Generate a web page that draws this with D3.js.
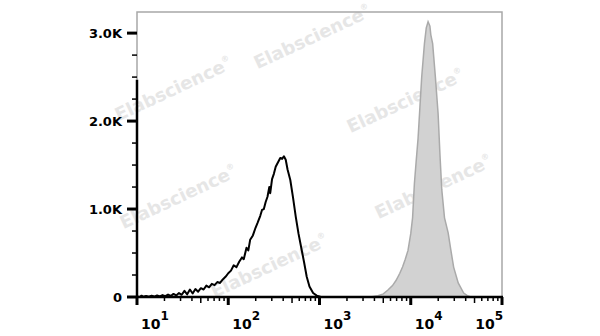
<!DOCTYPE html>
<html>
<head>
<meta charset="utf-8">
<script src="https://cdnjs.cloudflare.com/ajax/libs/d3/7.8.5/d3.min.js"></script>
<style>
  body { margin: 0; background: #fff; }
  svg { display: block; font-family: "DejaVu Sans", Verdana, sans-serif; }
</style>
</head>
<body>
<div id="chart"></div>
<script>
// log10(intensity) / event count pairs
var blackLog = [1.00,1.03,1.05,1.07,1.10,1.13,1.16,1.19,1.22,1.25,1.28,1.31,1.34,1.37,1.40,1.43,1.46,1.49,1.52,1.55,1.58,1.61,1.64,1.67,1.70,1.73,1.76,1.79,1.82,1.85,1.88,1.91,1.94,1.97,2.00,2.03,2.06,2.09,2.12,2.15,2.17,2.20,2.22,2.24,2.27,2.30,2.32,2.35,2.37,2.39,2.41,2.43,2.45,2.46,2.48,2.50,2.52,2.55,2.57,2.59,2.61,2.63,2.65,2.68,2.71,2.74,2.77,2.80,2.83,2.86,2.89,2.93,2.97,3.01,3.05]
var blackCount = [5,0,15,2,12,3,14,5,18,6,22,10,28,12,35,18,45,25,70,30,85,40,90,60,100,85,130,110,150,135,170,160,200,230,270,300,360,340,400,450,430,560,530,650,700,790,840,920,990,1000,1080,1140,1250,1180,1340,1400,1480,1540,1580,1570,1600,1560,1450,1330,1130,910,720,560,400,230,120,45,15,4,0]

var grayLog = [3.56,3.64,3.70,3.75,3.80,3.84,3.88,3.91,3.94,3.97,4.00,4.02,4.04,4.06,4.08,4.10,4.12,4.15,4.17,4.19,4.21,4.22,4.24,4.27,4.30,4.32,4.34,4.37,4.41,4.44,4.47,4.52,4.58,4.62,4.66]
var grayCount = [0,15,35,80,130,190,270,340,430,530,720,900,1290,1550,1800,2150,2500,2880,3060,3130,3080,2980,2880,2500,2080,1620,1220,900,730,530,340,160,45,15,0]

var yTicks = [0, 1000, 2000, 3000]
var yTickLabels = ["0", "1.0K", "2.0K", "3.0K"]
var xDecades = [1, 2, 3, 4, 5]

var watermarks = [[313, 38], [174, 90], [406, 102], [179, 198], [434, 188], [270, 267]]

var W = 600, H = 336
var margin = {top: 12, right: 98, bottom: 39, left: 137}
var width = W - margin.left - margin.right,
    height = H - margin.top - margin.bottom

var x = d3.scaleLog().domain([10, 1e5]).range([0, width])
var y = d3.scaleLinear().domain([0, 3240]).range([height, 0])

var svg = d3.select("#chart").append("svg")
  .attr("width", W)
  .attr("height", H)

// watermark
svg.append("g").attr("class", "wm")
  .selectAll("text")
  .data(watermarks).enter().append("text")
  .attr("transform", d => "translate(" + d[0] + "," + d[1] + ") rotate(-25)")
  .attr("text-anchor", "middle")
  .attr("dominant-baseline", "middle")
  .style("font-size", "18px")
  .style("font-weight", "bold")
  .style("fill", "#e6e6e6")
  .text("Elabscience")
  .append("tspan")
  .attr("dy", -7)
  .style("font-size", "8px")
  .text("®")

var g = svg.append("g")
  .attr("transform", "translate(" + margin.left + "," + margin.top + ")")

var black = blackLog.map((v, i) => ({v: Math.pow(10, v), c: blackCount[i]}))
var gray = grayLog.map((v, i) => ({v: Math.pow(10, v), c: grayCount[i]}))

var area = d3.area()
  .x(d => x(d.v))
  .y0(y(0))
  .y1(d => y(d.c))

var line = d3.line()
  .x(d => x(d.v))
  .y(d => y(d.c))

g.append("path")
  .datum(gray)
  .attr("d", area)
  .attr("fill", "#d2d2d2")
  .attr("stroke", "#aaaaaa")
  .attr("stroke-width", 1.5)

g.append("path")
  .datum(black)
  .attr("d", line)
  .attr("fill", "none")
  .attr("stroke", "#000")
  .attr("stroke-width", 2)
  .attr("stroke-linejoin", "round")

// frame (top + right grey)
g.append("path")
  .attr("d", "M0," + y(2470) + "V0H" + width + "V" + height)
  .attr("fill", "none")
  .attr("stroke", "#a8a8a8")
  .attr("stroke-width", 1.5)

// y axis
var yMinor = d3.range(0, 3250, 250).filter(v => yTicks.indexOf(v) < 0)
var yAxis = g.append("g").attr("class", "y axis")
yAxis.append("line")
  .attr("x1", 0).attr("x2", 0)
  .attr("y1", y(0) + 1).attr("y2", y(2470))
  .attr("stroke", "#000").attr("stroke-width", 2.5)
yAxis.selectAll(".minor").data(yMinor).enter().append("line")
  .attr("class", "minor")
  .attr("x1", -5).attr("x2", 0)
  .attr("y1", d => y(d)).attr("y2", d => y(d))
  .attr("stroke", "#000").attr("stroke-width", 1.5)
yAxis.selectAll(".major").data(yTicks).enter().append("line")
  .attr("class", "major")
  .attr("x1", -10).attr("x2", 0)
  .attr("y1", d => y(d)).attr("y2", d => y(d))
  .attr("stroke", "#000").attr("stroke-width", 3)
yAxis.selectAll("text").data(yTicks).enter().append("text")
  .attr("x", -15)
  .attr("y", d => y(d))
  .attr("dy", "0.36em")
  .attr("text-anchor", "end")
  .style("font-size", "13px")
  .style("font-weight", "bold")
  .text((d, i) => yTickLabels[i])

// x axis
var xMinor = []
xDecades.slice(0, -1).forEach(function(e) {
  d3.range(2, 10).forEach(m => xMinor.push(m * Math.pow(10, e)))
})
var xAxis = g.append("g").attr("class", "x axis")
  .attr("transform", "translate(0," + height + ")")
xAxis.append("line")
  .attr("x1", -1).attr("x2", width + 1)
  .attr("stroke", "#000").attr("stroke-width", 2.5)
xAxis.selectAll(".minor").data(xMinor).enter().append("line")
  .attr("class", "minor")
  .attr("x1", d => x(d)).attr("x2", d => x(d))
  .attr("y1", 0).attr("y2", d => (String(d)[0] === "5" ? 6 : 4))
  .attr("stroke", "#000").attr("stroke-width", 1.5)
xAxis.selectAll(".major").data(xDecades).enter().append("line")
  .attr("class", "major")
  .attr("x1", d => x(Math.pow(10, d))).attr("x2", d => x(Math.pow(10, d)))
  .attr("y1", 0).attr("y2", 8)
  .attr("stroke", "#000").attr("stroke-width", 3)
var lab = xAxis.selectAll("text").data(xDecades).enter().append("text")
  .attr("x", (d, i) => x(Math.pow(10, d)) + (i === xDecades.length - 1 ? 1 : 4))
  .attr("y", 32)
  .attr("text-anchor", (d, i) => i === xDecades.length - 1 ? "end" : "start")
  .style("font-size", "14px")
  .style("font-weight", "bold")
lab.append("tspan").text("10")
lab.append("tspan").attr("dy", -9).style("font-size", "12px").text(d => d)
</script>
</body>
</html>
